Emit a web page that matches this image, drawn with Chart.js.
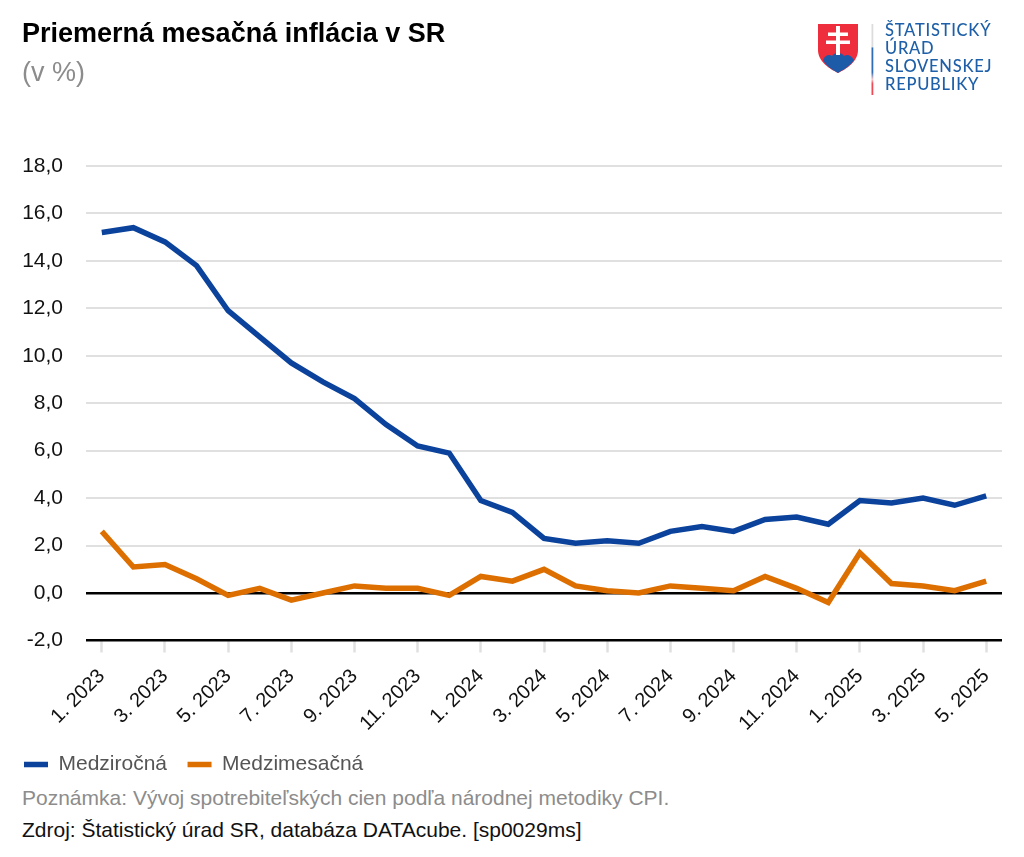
<!DOCTYPE html>
<html lang="sk"><head><meta charset="utf-8">
<style>
html,body{margin:0;padding:0;background:#fff;width:1024px;height:857px;overflow:hidden;font-family:"Liberation Sans",Arial,sans-serif}
#wrap{position:absolute;left:0;top:0;width:1024px;height:785px}
.note{position:absolute;left:22px;font-size:21px;white-space:nowrap;line-height:22px}
#logo{position:absolute;left:810px;top:15px}
</style>
<script src="https://cdn.jsdelivr.net/npm/chart.js@4"></script>
</head><body>
<div id="wrap"><canvas id="c" width="1024" height="785"></canvas></div>
<div class="note" style="top:787px;color:#8c8c8c">Poznámka: Vývoj spotrebiteľských cien podľa národnej metodiky CPI.</div>
<div class="note" style="top:819px;color:#111">Zdroj: Štatistický úrad SR, databáza DATAcube. [sp0029ms]</div>
<svg id="logo" width="200" height="85" viewBox="810 15 200 85">
  <defs><linearGradient id="bar" x1="0" y1="24" x2="0" y2="95" gradientUnits="userSpaceOnUse">
    <stop offset="0" stop-color="#dcdcdc"/><stop offset=".32" stop-color="#dcdcdc"/>
    <stop offset=".34" stop-color="#2f6db5"/><stop offset=".68" stop-color="#2f6db5"/>
    <stop offset=".78" stop-color="#f4c9cc"/><stop offset=".84" stop-color="#ee4a55"/><stop offset="1" stop-color="#ee4a55"/>
  </linearGradient></defs>
  <path d="M818 24H858V50C858 62 846 69 838 73C830 69 818 62 818 50Z" fill="#ee2e3d"/>
  <path d="M823 60C825 55 829 54 832 56C834 52 842 52 844 56C847 54 851 55 854 60C850 66 843 70 838 73C833 70 826 66 823 60Z" fill="#1d5aa8"/>
  <path d="M836 26h4v6.500h8v3.500h-8v4.500h10v3.500h-10V55h-4V44h-10v-3.500h10V36h-8v-3.500h8z" fill="#fff"/>
  <rect x="871.500" y="24" width="1.800" height="71" fill="url(#bar)"/>
  <g fill="#1d5fa8" font-family="Lato,'Open Sans',sans-serif" font-size="16.500" font-weight="500" letter-spacing=".75">
    <text x="885" y="36">ŠTATISTICKÝ</text>
    <text x="885" y="54">ÚRAD</text>
    <text x="885" y="72">SLOVENSKEJ</text>
    <text x="885" y="90">REPUBLIKY</text>
  </g>
</svg>
<script>
const titleText = 'Priemerná mesačná inflácia v SR';
const subtitleText = '(v %)';
const categories = ['1. 2023','2. 2023','3. 2023','4. 2023','5. 2023','6. 2023','7. 2023','8. 2023','9. 2023','10. 2023','11. 2023','12. 2023','1. 2024','2. 2024','3. 2024','4. 2024','5. 2024','6. 2024','7. 2024','8. 2024','9. 2024','10. 2024','11. 2024','12. 2024','1. 2025','2. 2025','3. 2025','4. 2025','5. 2025'];
const medzirocna = [15.2,15.4,14.8,13.8,11.9,10.8,9.7,8.9,8.2,7.1,6.2,5.9,3.9,3.4,2.3,2.1,2.2,2.1,2.6,2.8,2.6,3.1,3.2,2.9,3.9,3.8,4.0,3.7,4.1];
const medzimesacna = [2.6,1.1,1.2,0.6,-0.1,0.2,-0.3,0.0,0.3,0.2,0.2,-0.1,0.7,0.5,1.0,0.3,0.1,0.0,0.3,0.2,0.1,0.7,0.2,-0.4,1.7,0.4,0.3,0.1,0.5];
const seriesNames = ['Medziročná','Medzimesačná'];
const seriesColors = ['#0b429c','#dd6f00'];

const legendLeft = {id:'legendLeft',afterLayout(chart){chart.legend.left = 24 - chart.options.plugins.legend.labels.padding;}};

new Chart(document.getElementById('c'),{
  type:'line',
  plugins:[legendLeft],
  data:{labels:categories,datasets:[
    {label:seriesNames[0],data:medzirocna,borderColor:seriesColors[0],backgroundColor:seriesColors[0],borderWidth:5.5,pointRadius:0,tension:0,borderJoinStyle:'miter'},
    {label:seriesNames[1],data:medzimesacna,borderColor:seriesColors[1],backgroundColor:seriesColors[1],borderWidth:5.5,pointRadius:0,tension:0,borderJoinStyle:'miter'}
  ]},
  options:{
    responsive:false,animation:false,
    layout:{padding:{left:22,right:22,top:0,bottom:0}},
    plugins:{
      tooltip:{enabled:false},
      title:{display:true,text:titleText,align:'start',color:'#000',font:{family:'"Liberation Sans"',size:27,weight:'bold'},padding:{top:18,bottom:7.4}},
      subtitle:{display:true,text:subtitleText,align:'start',color:'#8c8c8c',font:{family:'"Liberation Sans"',size:27,weight:'normal'},padding:{top:0,bottom:75.8}},
      legend:{position:'bottom',align:'start',labels:{boxWidth:24,boxHeight:5.5,padding:20.5,color:'#555',font:{family:'"Liberation Sans"',size:21},
        generateLabels(chart){return Chart.defaults.plugins.legend.labels.generateLabels(chart).map(l=>({...l,lineWidth:0}));}}}
    },
    scales:{
      x:{
        offset:true,
        afterFit(s){s.height=93;},
        grid:{drawOnChartArea:false,drawTicks:true,tickLength:12,tickColor:'#e0e0e0',tickWidth:2.5,offset:false},
        border:{display:false},
        ticks:{autoSkip:true,maxTicksLimit:15,minRotation:45,maxRotation:45,color:'#111',font:{family:'"Liberation Sans"',size:20},padding:12}
      },
      y:{
        min:-2,max:18,
        afterFit(s){s.width=64;},
        border:{display:false},
        grid:{
          drawTicks:false,
          color:c=>(c.tick&&(c.tick.value===0||c.tick.value===-2))?'#000':'#e0e0e0',
          lineWidth:c=>(c.tick&&(c.tick.value===0||c.tick.value===-2))?2.5:2
        },
        ticks:{stepSize:2,color:'#111',padding:23,font:{family:'"Liberation Sans"',size:21},callback:v=>v.toFixed(1).replace('.',',')}
      }
    }
  }
});
</script>
</body></html>
